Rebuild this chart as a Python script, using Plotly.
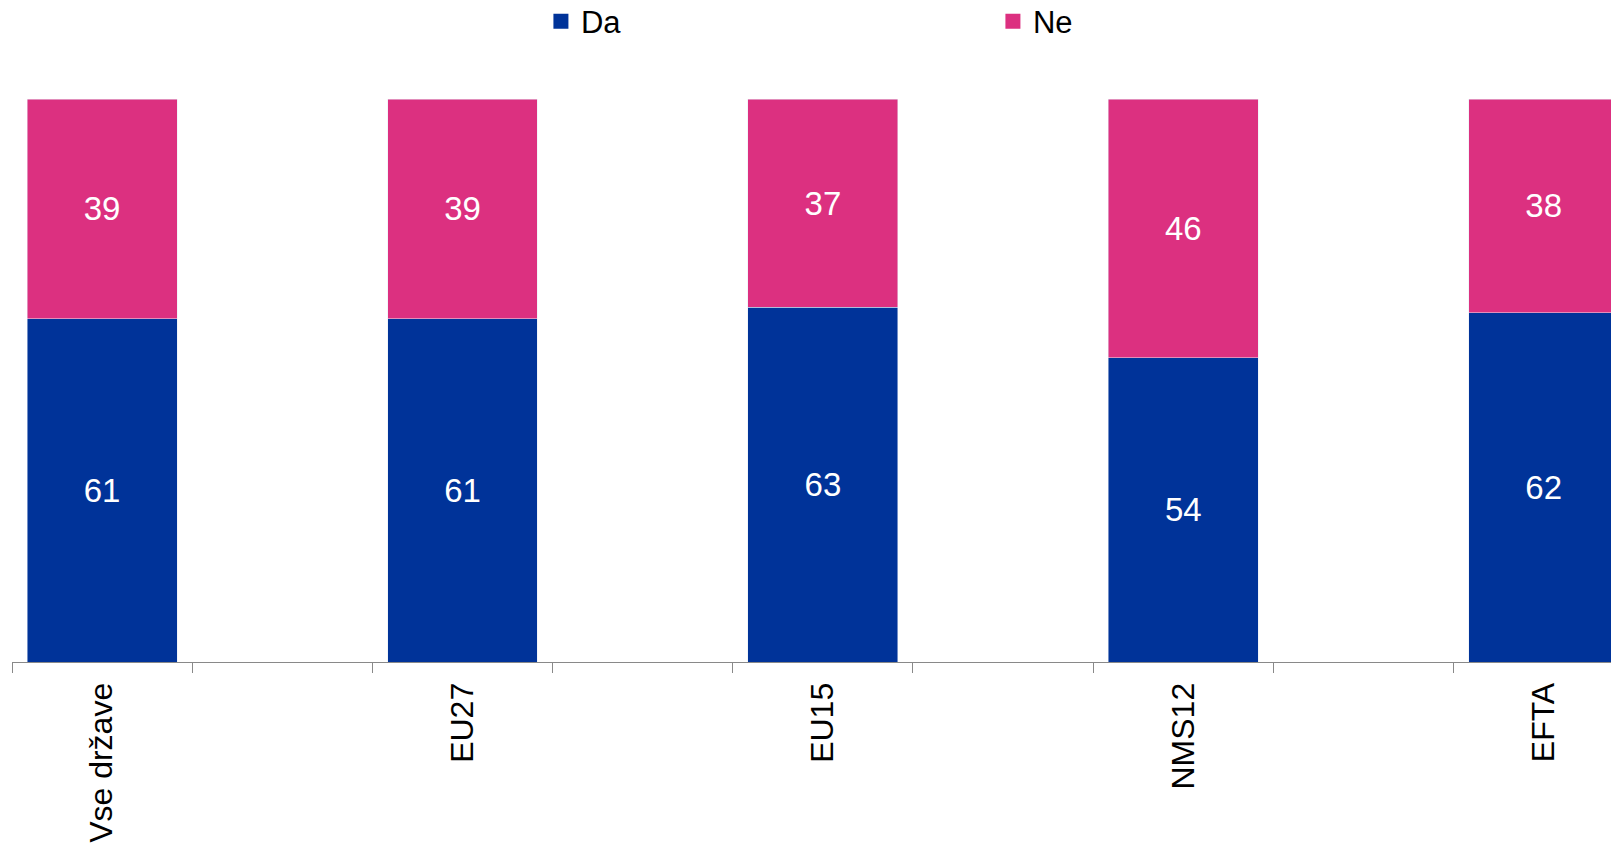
import plotly.graph_objects as go

groups = ["Vse države", "EU27", "EU15", "NMS12", "EFTA"]
da = [61, 61, 63, 54, 62]
ne = [39, 39, 37, 46, 38]

# axis slots: an empty slot between each group
slots = []
for i, g in enumerate(groups):
    slots.append(g)
    if i < len(groups) - 1:
        slots.append(" " * (i + 1))

FONT = "Liberation Sans, Arial, sans-serif"
BLUE = "#003399"
PINK = "#DC3080"

fig = go.Figure()
for name, vals, col in (("Da", da, BLUE), ("Ne", ne, PINK)):
    fig.add_trace(go.Bar(
        name=name, x=groups, y=vals, marker_color=col,
        text=vals, textposition="inside", insidetextanchor="middle",
        textfont=dict(color="white", size=33, family=FONT),
        showlegend=False, legendgroup=name,
    ))
# legend entries with larger square swatches
for name, col in (("Da", BLUE), ("Ne", PINK)):
    fig.add_trace(go.Scatter(
        name=name, x=[None], y=[None], mode="markers",
        marker=dict(symbol="square", size=15, color=col),
        legendgroup=name, hoverinfo="skip",
    ))

fig.update_layout(
    width=1611, height=835,
    barmode="stack", bargap=0.168,
    margin=dict(l=4, r=0, t=91, b=181),
    plot_bgcolor="white", paper_bgcolor="white",
    font=dict(family=FONT, color="black"),
    legend=dict(
        orientation="h", xref="container", yref="container",
        x=0.3308, y=0.9836, xanchor="left", yanchor="middle",
        font=dict(size=31, family=FONT),
        entrywidth=407, traceorder="normal",
        itemwidth=30,
        bgcolor="rgba(0,0,0,0)",
    ),
    xaxis=dict(
        type="category", categoryorder="array", categoryarray=slots,
        range=[-0.5, 8.418],
        showline=True, linecolor="#898989", linewidth=1,
        ticks="outside", tickson="boundaries", ticklen=10,
        tickcolor="#898989", tickwidth=1,
        tickangle=-90, tickfont=dict(size=32, family=FONT, color="black"),
        ticklabelstandoff=7,
        showgrid=False, zeroline=False,
    ),
    yaxis=dict(
        range=[0, 100], visible=False, showgrid=False, zeroline=False,
    ),
)

fig.write_html("out.html")
